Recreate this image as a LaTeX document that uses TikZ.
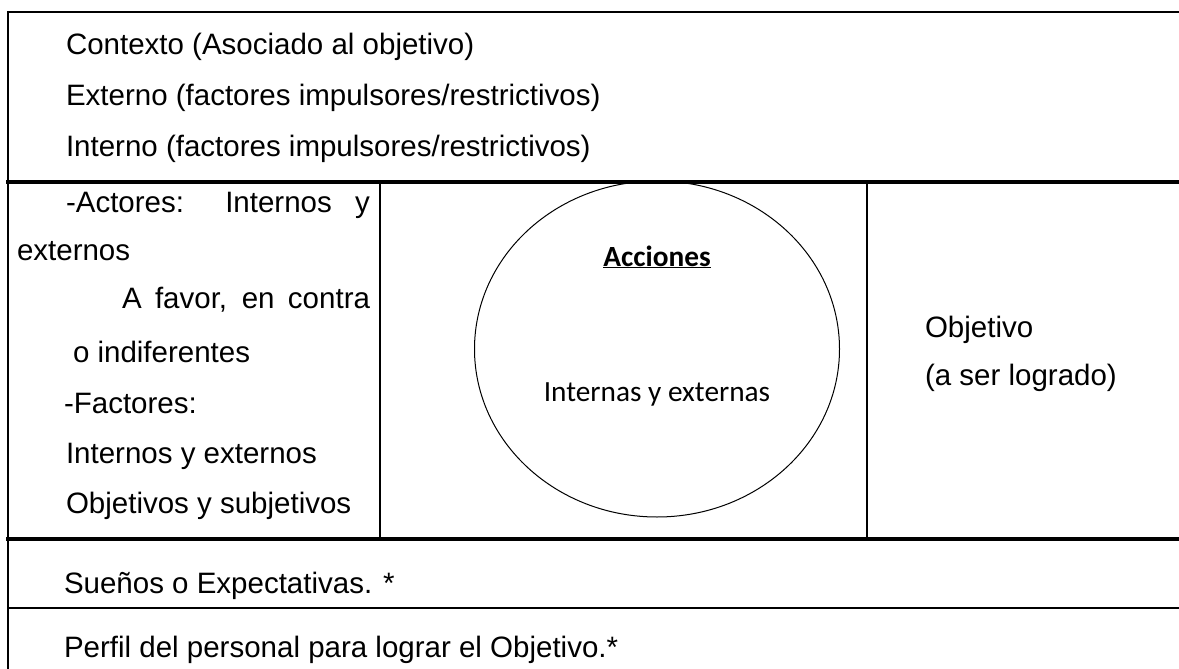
\documentclass[tikz,border=0pt]{standalone}
\usepackage{fontspec}
\setmainfont{Liberation Sans}
\newfontfamily\calibri{Carlito}
\usetikzlibrary{shapes.geometric}
\tikzset{
  txt/.style={anchor=base west, inner sep=0pt, outer sep=0pt, font=\fontsize{29.5}{35}\selectfont},
  ctxt/.style={anchor=base, inner sep=0pt, outer sep=0pt, font=\calibri\fontsize{29.3}{35}\selectfont},
  thin/.style={line width=2pt},
  thick/.style={line width=4pt},
}
\begin{document}
\begin{tikzpicture}[x=1pt,y=-1pt]
\useasboundingbox (0,0) rectangle (1179,669);
\fill[white] (0,0) rectangle (1179,669);
% table lines
\draw[thin] (8,12) -- (1190,12);
\draw[thin] (8,11) -- (8,680);
\draw[thick] (6,181.5) -- (1190,181.5);
\draw[thin] (380,181) -- (380,539);
\draw[line width=2.5pt] (867,181) -- (867,539);
\draw[thick] (6,539) -- (1190,539);
\draw[thin] (7,608) -- (1190,608);
% top texts
\node[txt] (ctx) at (66,55) {Contexto (Asociado al objetivo)};
\node[txt] (ext) at (66,106) {Externo (factores impulsores/restrictivos)};
\node[txt] (int) at (66,156) {Interno (factores impulsores/restrictivos)};
% left column
\node[txt] (act) at (66,212) {\makebox[304pt][s]{-Actores: Internos y}};
\node[txt] (actb) at (17,260) {externos};
\node[txt] (fav) at (122,308) {\makebox[248pt][s]{A favor, en contra}};
\node[txt] (ind) at (73,362) {o indiferentes};
\node[txt] (fac) at (64,413) {-Factores:};
\node[txt] (ie) at (66,463) {Internos y externos};
\node[txt] (os) at (66,513) {Objetivos y subjetivos};
% circle
\node[ellipse, draw, line width=1pt, minimum width=365pt, minimum height=336pt, inner sep=0pt] (circ) at (657,349) {};
\node[ctxt, font=\calibri\bfseries\fontsize{29.3}{35}\selectfont] (acc) at (657,266) {\underline{Acciones}};
\node[ctxt] (iyx) at (657,401) {Internas y externas};
% objective
\node[txt] (obj) at (925,337) {Objetivo};
\node[txt] (obj2) at (925,385) {(a ser logrado)};
% bottom rows
\node[txt] (sue) at (64,593) {Sueños o Expectativas. *};
\node[txt] (per) at (64,657) {Perfil del personal para lograr el Objetivo.*};
\end{tikzpicture}
\end{document}
